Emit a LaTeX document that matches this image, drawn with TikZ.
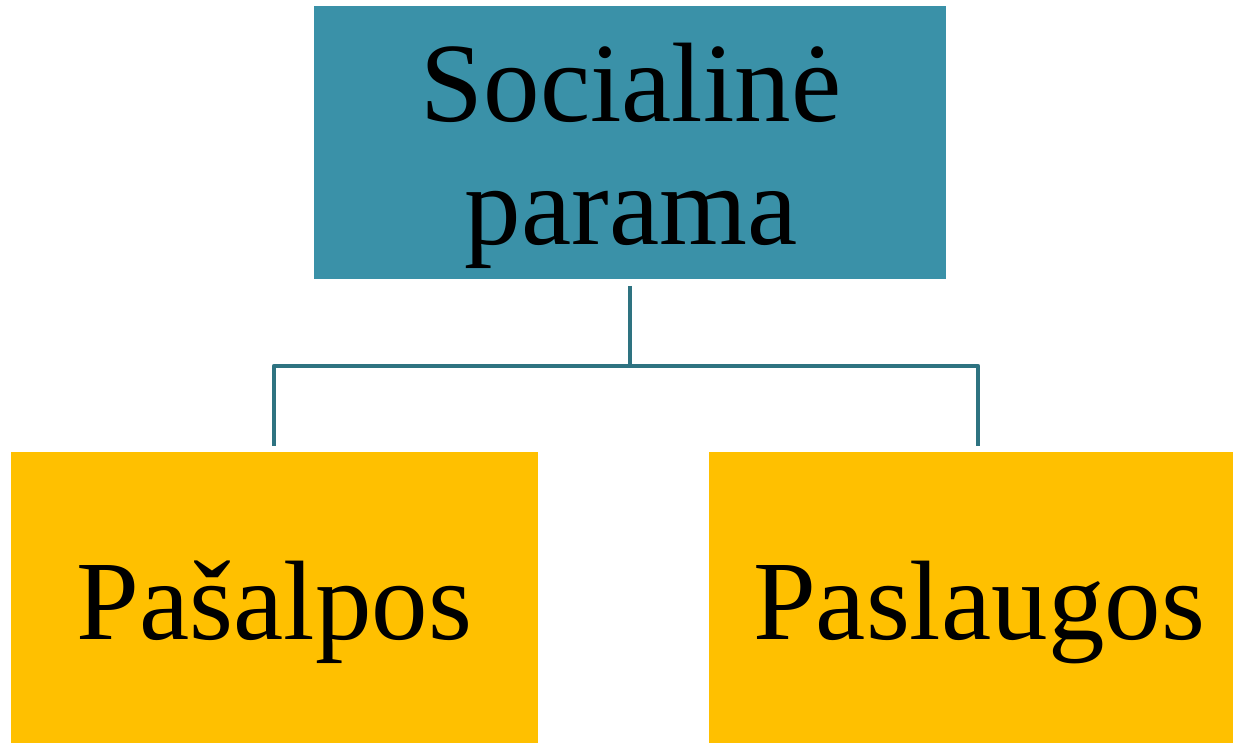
\documentclass[tikz,border=0pt]{standalone}
\usepackage{fontspec}
\setmainfont{Liberation Serif}
\definecolor{topfill}{HTML}{3A91A8}
\definecolor{leaf}{HTML}{FFC000}
\definecolor{conn}{HTML}{2E7381}
\begin{document}
\begin{tikzpicture}[x=1pt,y=1pt,
  boxbase/.style={rectangle,inner sep=0pt,outer sep=0pt,draw=none},
  topbox/.style={boxbase,fill=topfill},
  leafbox/.style={boxbase,fill=leaf},
  lbl/.style={inner sep=0pt,outer sep=0pt,anchor=base,font=\fontsize{113}{123}\selectfont},
  connector/.style={draw=conn,line width=4.5pt}]
\useasboundingbox (0,0) rectangle (1233,743);
\node[topbox,minimum width=632pt,minimum height=273pt] (top) at (630,600.5) {};
\node[leafbox,minimum width=527pt,minimum height=291pt] (left) at (274.5,145.5) {};
\node[leafbox,minimum width=524pt,minimum height=291pt] (right) at (971,145.5) {};
\node[lbl] (t1) at (631,621) {Socialinė};
\node[lbl] (t2) at (631,498) {parama};
\node[lbl] (l1) at (274.5,103) {Pašalpos};
\node[lbl] (r1) at (979,103) {Paslaugos};
\coordinate (tstart) at ([yshift=-7pt]top.south);
\coordinate (hub) at (630,377);
\coordinate (lend) at (274,297);
\coordinate (rend) at (978,297);
\draw[connector] (tstart) -- (hub);
\draw[connector,line join=round] (lend) |- (hub) -| (rend);
\end{tikzpicture}
\end{document}
